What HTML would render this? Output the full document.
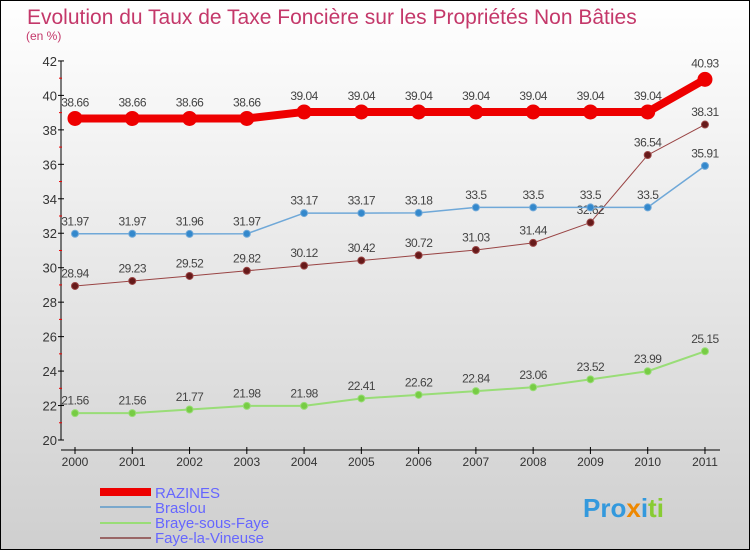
<!DOCTYPE html>
<html><head><meta charset="utf-8"><style>
body{margin:0;width:750px;height:550px;overflow:hidden;font-family:"Liberation Sans",sans-serif}
</style></head><body>
<svg width="750" height="550" xmlns="http://www.w3.org/2000/svg">
<defs><linearGradient id="bg" x1="0" y1="0" x2="0" y2="1"><stop offset="0" stop-color="#ffffff"/><stop offset="1" stop-color="#cfcfcf"/></linearGradient></defs>
<rect x="0.5" y="0.5" width="749" height="549" fill="url(#bg)" stroke="#000"/>
<text x="27" y="24" font-size="21" fill="#c4386a">Evolution du Taux de Taxe Foncière sur les Propriétés Non Bâties</text>
<text x="26" y="40" font-size="12" fill="#c4386a">(en %)</text>
<g id="axes"></g>
<g id="series"></g>
<g>
<rect x="100" y="488" width="51" height="8" fill="#ee0000"/>
<text x="155" y="498" font-size="15" fill="#6666ff">RAZINES</text>
<rect x="100" y="506" width="51" height="2" fill="#7aa8cc"/>
<text x="155" y="513" font-size="15" fill="#6666ff">Braslou</text>
<rect x="100" y="522" width="51" height="2" fill="#99dd77"/>
<text x="155" y="528" font-size="15" fill="#6666ff">Braye-sous-Faye</text>
<rect x="100" y="537" width="51" height="2" fill="#996666"/>
<text x="155" y="543" font-size="15" fill="#6666ff">Faye-la-Vineuse</text>
</g>
<text x="583" y="517" font-size="26" font-weight="bold"><tspan fill="#3399dd">Pro</tspan><tspan fill="#ee8800">x</tspan><tspan fill="#3399dd">i</tspan><tspan fill="#88cc33">ti</tspan></text>
</svg>
<script>
const years=[2000,2001,2002,2003,2004,2005,2006,2007,2008,2009,2010,2011];
const razines=[38.66,38.66,38.66,38.66,39.04,39.04,39.04,39.04,39.04,39.04,39.04,40.93];
const braslou=[31.97,31.97,31.96,31.97,33.17,33.17,33.18,33.5,33.5,33.5,33.5,35.91];
const braye=[21.56,21.56,21.77,21.98,21.98,22.41,22.62,22.84,23.06,23.52,23.99,25.15];
const faye=[28.94,29.23,29.52,29.82,30.12,30.42,30.72,31.03,31.44,32.62,36.54,38.31];
const yTicks=[20,22,24,26,28,30,32,34,36,38,40,42];
const NS="http://www.w3.org/2000/svg";
const x=i=>75+i*57.27;
const y=v=>440-(v-20)*17.23;
function mk(p,t,a){const e=document.createElementNS(NS,t);for(const k in a)e.setAttribute(k,a[k]);p.appendChild(e);return e;}
const ax=document.getElementById('axes');
let e=mk(ax,'line',{x1:61,y1:61,x2:61,y2:440,stroke:'#000'});


e=mk(ax,'line',{x1:61,y1:450,x2:720,y2:450,stroke:'#000'});


yTicks.forEach(v=>{
 mk(ax,'line',{x1:58,y1:y(v),x2:64,y2:y(v),stroke:'#000'});
 if(v<42) mk(ax,'line',{x1:59,y1:y(v+1),x2:62,y2:y(v+1),stroke:'#e00'});
 const t=mk(ax,'text',{x:57,y:y(v)+5,'font-size':13,fill:'#333','text-anchor':'end'});t.textContent=v;
 
 
});
years.forEach((yr,i)=>{
 mk(ax,'line',{x1:x(i),y1:447,x2:x(i),y2:454,stroke:'#000'});
 const t=mk(ax,'text',{x:x(i),y:466,'font-size':12,fill:'#333','text-anchor':'middle'});t.textContent=yr;
 
 
});
const sg=document.getElementById('series');
function series(vals,col,fill,w,r,name){
 const g=mk(sg,'g',{});
 
 
 mk(g,'polyline',{points:vals.map((v,i)=>x(i)+','+y(v)).join(' '),fill:'none',stroke:col,'stroke-width':w,'stroke-linejoin':'round'});
 vals.forEach((v,i)=>{
  const c=mk(g,'circle',{cx:x(i),cy:y(v),r:r,fill:fill,stroke:col,'stroke-width':1});
  
  
  const t=mk(g,'text',{x:x(i),y:y(v)-r-5,'font-size':12,fill:'#444','text-anchor':'middle','letter-spacing':'-0.5'});t.textContent=v;
  
  
 });
}
series(braye,'#99dd77','#77cc44',2,3.5,'braye');
series(faye,'#994444','#661a1a',1,3.5,'faye');
series(braslou,'#6fa8d8','#3388cc',1.5,3.5,'braslou');
series(razines,'#ee0000','#ee0000',8,7,'razines');
</script>
</body></html>
